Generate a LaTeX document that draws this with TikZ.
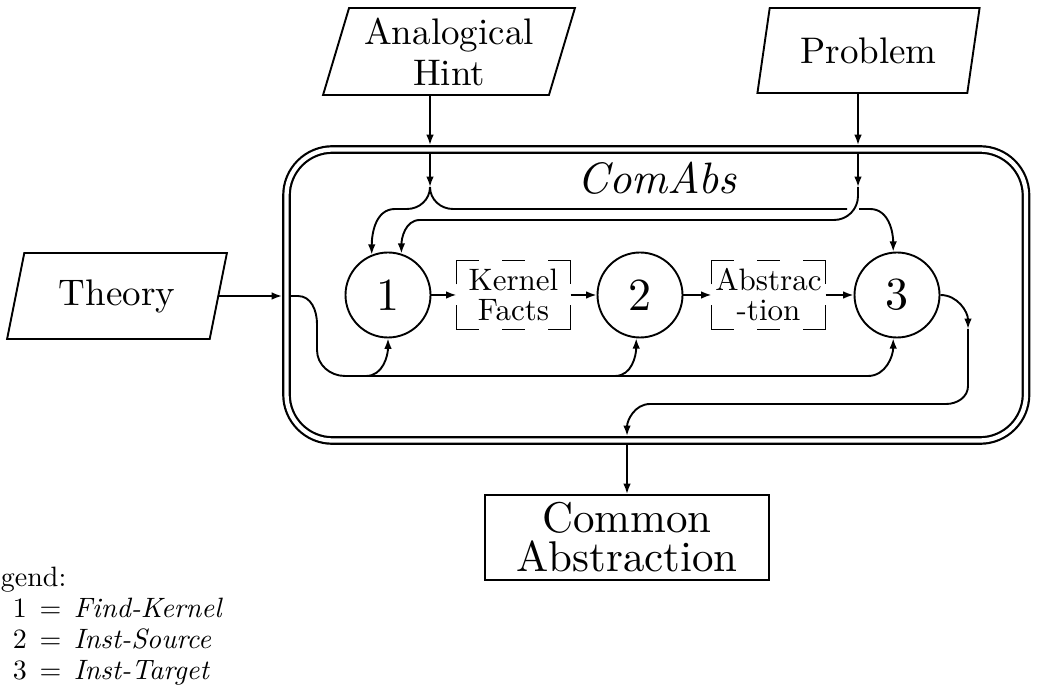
\documentclass[tikz,border=0pt]{standalone}
\usepackage{fontspec}
\setmainfont{lmroman10-regular.otf}[ItalicFont=lmroman10-italic.otf, BoldFont=lmroman10-bold.otf]
\usetikzlibrary{shapes.geometric,arrows.meta,calc}

% corner-bracket frame around an intermediate-result node
\newcommand\bracketframe[1]{%
  \draw ([yshift=-12pt]#1.north west) -- (#1.north west) -- ([xshift=11.2pt]#1.north west);
  \draw ([xshift=-11.2pt]#1.north east) -- (#1.north east) -- ([yshift=-12pt]#1.north east);
  \draw ([yshift=12pt]#1.south east) -- (#1.south east) -- ([xshift=-11.2pt]#1.south east);
  \draw ([xshift=11.2pt]#1.south west) -- (#1.south west) -- ([yshift=12pt]#1.south west);
  \draw ([xshift=-5.6pt]#1.north) -- ([xshift=5.6pt]#1.north);
  \draw ([xshift=-5.6pt]#1.south) -- ([xshift=5.6pt]#1.south);
}
\newcommand\legendline[2]{#1\hspace{0.45em}=\hspace{0.45em}\textit{#2}}

\begin{document}
\begin{tikzpicture}[x=0.5pt,y=0.5pt,line width=0.95pt,
  arr/.style={-{Latex[length=5.2pt,width=3.8pt]}},
  inputbox/.style={trapezium, trapezium left angle=72, trapezium right angle=108,
    trapezium stretches=true, draw, inner sep=0pt, align=center,
    font=\fontsize{18.5}{20.5}\selectfont},
  stage/.style={circle, draw, minimum size=42.5pt, inner sep=0pt,
    font=\fontsize{23}{27}\selectfont},
  datum/.style={rectangle, minimum width=57pt, minimum height=34.5pt, inner sep=0pt,
    outer sep=0pt, align=center, font=\fontsize{15.5}{15}\selectfont},
  legend/.style={inner sep=0pt, anchor=base west, font=\fontsize{14}{17}\selectfont}]

\useasboundingbox (0,0) rectangle (1037,696);

% inputs
\node[inputbox, minimum width=126pt, minimum height=43.5pt] (hint) at (449,644.5) {Analogical\\Hint};
\node[inputbox, minimum width=111.5pt, minimum height=42.5pt] (prob) at (868.5,645.5) {Problem};
\node[inputbox, minimum width=110pt, minimum height=43pt] (theory) at (117,400) {Theory};

% the ComAbs module
\node[draw, double, double distance=2.15pt, line width=1.1pt, rounded corners=23pt,
  minimum width=369.75pt, minimum height=145.5pt, inner sep=0pt, outer sep=2.2pt]
  (box) at (656.25,401) {};
\node[inner sep=0pt, font=\fontsize{22}{26}\selectfont\itshape] (title) at (657,518) {ComAbs};

% stages and intermediate results
\node[stage] (c1) at (388,401) {1};
\node[datum] (kf) at (513.5,401) {Kernel\\Facts};
\node[stage] (c2) at (640,401) {2};
\node[datum] (ab) at (768.5,401) {Abstrac\\-tion};
\node[stage] (c3) at (897,401) {3};
\bracketframe{kf}
\bracketframe{ab}

% output
\node[draw, rectangle, minimum width=142pt, minimum height=42.5pt, inner sep=0pt,
  align=center, font=\fontsize{21.5}{19.5}\selectfont] (ca) at (627,158.5) {Common\\Abstraction};

% legend
\node[legend] (lg) at (0,110) {gend:};
\node[legend] (lg1) at (12,79) {\legendline{1}{Find-Kernel}};
\node[legend] (lg2) at (12,48) {\legendline{2}{Inst-Source}};
\node[legend] (lg3) at (12,17) {\legendline{3}{Inst-Target}};

% waypoints inside the module
\coordinate (hintIn) at (430,542.5);
\coordinate (hintFork) at (430,509);
\coordinate (gapL) at (847,487);
\coordinate (gapR) at (859,487);
\coordinate (probIn) at (858,542.5);
\coordinate (probMid) at (858,509);
\coordinate (thIn) at (290.5,400);
\coordinate (busA) at (366,320);
\coordinate (busB) at (615,320);
\coordinate (loopTurn) at (968,367);
\coordinate (outIn) at (627,260);

% connectors into the module
\draw[arr] (hint.south -| hintIn) -- (hintIn |- box.north);
\draw[arr] (prob.south -| probIn) -- (probIn |- box.north);
\draw[arr] (theory.east) -- (theory.east -| box.west);

% analogical hint: fork to stages 1 and 3
\draw[arr] (hintIn) -- (hintFork);
\draw[arr] (hintFork) to[out=-90,in=0] (407,487) -- (395,487) to[out=180,in=90] (c1.112);
\draw (hintFork) to[out=-90,in=180] (453,487) -- (gapL);
\draw[arr] (gapR) -- (870,487) to[out=0,in=90] (c3.95);

% problem to stage 1
\draw[arr] (probIn) -- (probMid);
\draw[arr] (probMid) -- (858,500) to[out=-90,in=0] (834,476) -- (420,476) to[out=180,in=90] (c1.72);

% theory bus to all three stages
\draw[arr] (thIn) -- (298,400) to[out=0,in=90] (317,372) -- (317,346)
  to[out=-90,in=180] (345,320) -- (868,320) to[out=0,in=-90] (c3.-95);
\draw[arr] (busA) to[out=0,in=-90] (c1.south);
\draw[arr] (busB) to[out=0,in=-90] (c2.-95);

% main chain
\draw[arr] (c1) -- (kf);
\draw[arr] (kf) -- (c2);
\draw[arr] (c2) -- (ab);
\draw[arr] (ab) -- (c3);

% result leaves the module
\draw[arr] (c3.east) to[out=0,in=90] (loopTurn);
\draw[arr] (loopTurn) -- (968,310) to[out=-90,in=0] (946,292) -- (650,292) to[out=180,in=90] (outIn);
\draw[arr] (ca.north |- box.south) -- (ca.north);

\end{tikzpicture}
\end{document}
